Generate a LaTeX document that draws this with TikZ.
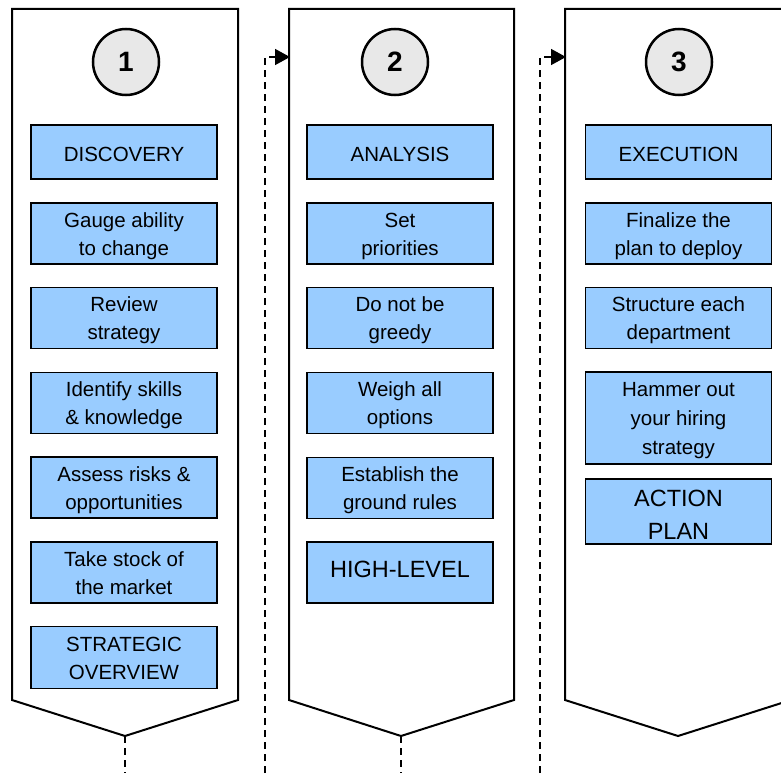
\documentclass[tikz,border=0pt]{standalone}
\usepackage{fontspec}
\setmainfont{Liberation Sans}
\usetikzlibrary{arrows.meta}
\definecolor{boxblue}{RGB}{153,204,255}
\definecolor{circgray}{RGB}{232,232,232}
\newcommand\myTS{\rule{0pt}{20pt}}
\newcommand\myTSa{\rule{0pt}{23pt}}
\newcommand\myBS{\rule[-4.5pt]{0pt}{0pt}}
\newcommand\myTSb{\rule{0pt}{28pt}}
\newcommand\myBSb{\rule[-5pt]{0pt}{0pt}}
\newcommand\myBSc{\rule[-5.5pt]{0pt}{0pt}}
\tikzset{
  panel/.style={draw=black, line width=2pt, fill=white, line join=miter},
  box/.style={draw=black, line width=1.8pt, fill=boxblue, minimum width=186pt, inner sep=0pt, align=center,
    font=\fontsize{20.5}{28}\selectfont},
  bigbox/.style={box, font=\fontsize{23.5}{32.5}\selectfont},
  numcirc/.style={circle, draw=black, line width=2.5pt, fill=circgray, minimum size=66pt, inner sep=0pt, font=\fontsize{28}{28}\selectfont\bfseries},
  dashline/.style={draw=black, line width=1.5pt, dash pattern=on 7pt off 5pt},
  conn/.style={dashline, -{Triangle[length=15pt,width=16pt]}}
}
\begin{document}
\begin{tikzpicture}[x=1pt,y=-1pt]
\useasboundingbox (0,0) rectangle (781,773);
\clip (0,0) rectangle (781,773);
% panels
\draw[panel] (12,9) -- (238,9) -- (238,700) -- (125,736) -- (12,700) -- cycle;
\draw[panel] (289,9) -- (514,9) -- (514,700) -- (401,736) -- (289,700) -- cycle;
\draw[panel] (565,9) -- (791,9) -- (791,700) -- (678,736) -- (565,700) -- cycle;
\coordinate (p1tip) at (125,736);
\coordinate (p2tip) at (401,736);
\coordinate (p1end) at (125,773);
\coordinate (p2end) at (401,773);
\coordinate (c1start) at (265,773);
\coordinate (c2start) at (540,773);
\coordinate (p2in) at (290,57);
\coordinate (p3in) at (566,57);
% circles
\node[numcirc] (n1) at (126,62) {1};
\node[numcirc] (n2) at (395,62) {2};
\node[numcirc] (n3) at (679,62) {3};
% panel 1
\node[box, minimum height=54pt] (a1) at (124,152) {\myTSa DISCOVERY\myBS};
\node[box, minimum height=61pt] (a2) at (124,233.5) {\myTS Gauge ability\\to change\myBS};
\node[box, minimum height=61pt] (a3) at (124,318) {\myTS Review\\strategy\myBS};
\node[box, minimum height=61pt] (a4) at (124,403) {\myTS Identify skills\\\& knowledge\myBS};
\node[box, minimum height=61pt] (a5) at (124,487.5) {\myTS Assess risks \&\\opportunities\myBS};
\node[box, minimum height=61pt] (a6) at (124,572.5) {\myTS Take stock of\\the market\myBS};
\node[box, minimum height=62pt] (a7) at (124,657.5) {\myTS STRATEGIC\\OVERVIEW\myBS};
% panel 2
\node[box, minimum height=54pt] (b1) at (400,152) {\myTSa ANALYSIS\myBS};
\node[box, minimum height=61pt] (b2) at (400,233.5) {\myTS Set\\priorities\myBS};
\node[box, minimum height=61pt] (b3) at (400,318) {\myTS Do not be\\greedy\myBS};
\node[box, minimum height=61pt] (b4) at (400,403) {\myTS Weigh all\\options\myBS};
\node[box, minimum height=61pt] (b5) at (400,488) {\myTS Establish the\\ground rules\myBS};
\node[bigbox, minimum height=61pt] (b6) at (400,572.5) {HIGH-LEVEL\myBSc};
% panel 3
\node[box, minimum height=54pt] (d1) at (678.5,152) {\myTSa EXECUTION\myBS};
\node[box, minimum height=61pt] (d2) at (678.5,233.5) {\myTS Finalize the\\plan to deploy\myBS};
\node[box, minimum height=61pt] (d3) at (678.5,318) {\myTS Structure each\\department\myBS};
\node[box, minimum height=92pt, font=\fontsize{20.5}{29}\selectfont] (d4) at (678.5,418) {\myTS Hammer out\\your hiring\\strategy\myBS};
\node[bigbox, minimum height=61pt] (d5) at (678.5,511.5) {\myTSb ACTION\\PLAN\myBSb};
% connectors
\draw[dashline] (p1tip) -- (p1end);
\draw[dashline] (p2tip) -- (p2end);
\draw[conn] (c1start) |- (p2in);
\draw[conn] (c2start) |- (p3in);
\end{tikzpicture}
\end{document}
